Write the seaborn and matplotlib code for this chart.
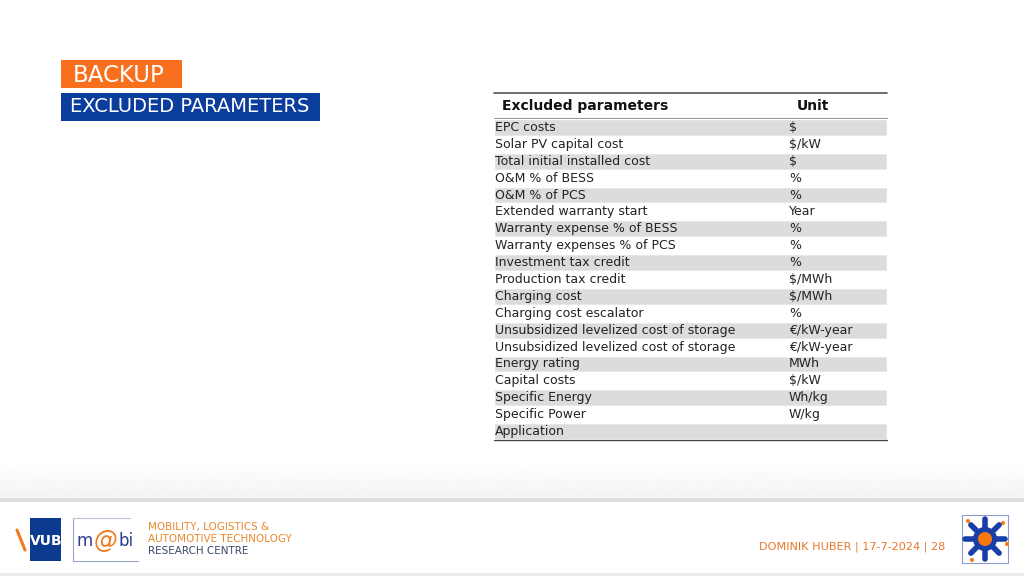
import numpy as np
import pandas as pd
import matplotlib
matplotlib.use('Agg')
import matplotlib.pyplot as plt
import matplotlib.patches as mpatches
import seaborn as sns

# table content
params = ['EPC costs', 'Solar PV capital cost', 'Total initial installed cost',
          'O&M % of BESS', 'O&M % of PCS', 'Extended warranty start',
          'Warranty expense % of BESS', 'Warranty expenses % of PCS',
          'Investment tax credit', 'Production tax credit', 'Charging cost',
          'Charging cost escalator', 'Unsubsidized levelized cost of storage',
          'Unsubsidized levelized cost of storage', 'Energy rating',
          'Capital costs', 'Specific Energy', 'Specific Power', 'Application']
units = ['$', '$/kW', '$', '%', '%', 'Year', '%', '%', '%', '$/MWh', '$/MWh',
         '%', '€/kW-year', '€/kW-year', 'MWh', '$/kW', 'Wh/kg', 'W/kg', '']
header = ['Excluded parameters', 'Unit']
section = 'BACKUP'
title = 'EXCLUDED PARAMETERS'
footer = 'DOMINIK HUBER | 17-7-2024 | 28'
centre_lines = ['MOBILITY, LOGISTICS &', 'AUTOMOTIVE TECHNOLOGY', 'RESEARCH CENTRE']

sns.set_theme(style='white')
plt.rcParams['font.family'] = ['DejaVu Sans']

W, H = 1024, 576
fig = plt.figure(figsize=(W / 100, H / 100), dpi=100)

# background axes in pixel coordinates
bg = fig.add_axes([0, 0, 1, 1])
bg.set_xlim(0, W)
bg.set_ylim(H, 0)
bg.axis('off')

# grey gradient above footer
grad = np.linspace(1.0, 0.955, 40).reshape(-1, 1)
bg.imshow(np.repeat(grad, 2, axis=1), cmap='gray', vmin=0, vmax=1,
          extent=(0, W, 499, 460), aspect='auto', zorder=0)
bg.add_patch(mpatches.Rectangle((0, 498), W, 4, color='#dedede', lw=0, zorder=1))
bg.add_patch(mpatches.Rectangle((0, 573), W, 3, color='#ececec', lw=0, zorder=1))

# section boxes
bg.add_patch(mpatches.Rectangle((61, 60), 121, 28, color='#f8701e', lw=0))
bg.text(73, 75, section, color='white', fontsize=16.5, va='center', ha='left')
bg.add_patch(mpatches.Rectangle((61, 93), 259, 28, color='#0b3d9d', lw=0))
bg.text(70, 107, title, color='white', fontsize=14, va='center', ha='left')

# table header
bg.plot([494, 887], [92.5, 92.5], color='#555555', lw=1.2)
bg.text(502, 106, header[0], fontsize=10, fontweight='bold', color='#111111', va='center')
bg.text(797, 106, header[1], fontsize=10, fontweight='bold', color='#111111', va='center')
bg.plot([494, 887], [118, 118], color='#999999', lw=0.8)

# table rows with seaborn bars as stripes (row index keeps duplicate names apart)
tab = pd.DataFrame({'row': [str(i) for i in range(len(params))],
                    'param': params, 'unit': units,
                    'span': [1.0] * len(params),
                    'shade': ['grey' if i % 2 == 0 else 'white' for i in range(len(params))]})
ax = fig.add_axes([494 / W, 1 - 440 / H, 393 / W, 321 / H])
sns.barplot(data=tab, y='row', x='span', hue='shade', orient='h',
            palette={'grey': '#dcdcdc', 'white': '#ffffff'}, width=1.0,
            legend=False, ax=ax, dodge=False)
ax.set_xlim(0, 1)
ax.set_ylim(len(params) - 0.5, -0.5)
ax.axis('off')
for i, (p, u) in enumerate(zip(tab['param'], tab['unit'])):
    ax.text(0.002, i, p, fontsize=9, color='#222222', va='center', ha='left')
    ax.text(0.75, i, u, fontsize=9, color='#222222', va='center', ha='left')
bg.plot([494, 887], [440, 440], color='#444444', lw=1.0, zorder=5)

# footer text
bg.text(945, 547, footer, color='#e8772a', fontsize=8.1, ha='right', va='center')

# VUB logo
bg.add_patch(mpatches.Rectangle((30, 518), 31, 43, color='#0b3a8e', lw=0))
bg.text(46, 541, 'VUB', color='white', fontsize=10, fontweight='bold', ha='center', va='center')
bg.plot([17, 25], [530, 550], color='#f07a1e', lw=2.2)

# mobi logo
bg.plot([73, 73, 138], [518, 561, 561], color='#9aa6c8', lw=0.8)
bg.plot([73, 130], [518, 518], color='#b8c0d8', lw=0.8)
bg.text(85, 541, 'm', color='#2b3f8f', fontsize=12, ha='center', va='center')
bg.text(105, 541, '@', color='#f07a1e', fontsize=17, ha='center', va='center', style='italic')
bg.text(126, 541, 'bi', color='#2b3f8f', fontsize=12, ha='center', va='center')
for k, line in enumerate(centre_lines):
    bg.text(148, 527 + 12 * k, line, fontsize=7.5,
            color='#3a4a6a' if k == 2 else '#e8892e', va='center', ha='left')

# sun logo
bg.add_patch(mpatches.Rectangle((962, 515), 46, 48, fill=False, ec='#8c9ad0', lw=0.8))
ang = np.linspace(0, 2 * np.pi, 9)[:-1]
for a in ang:
    bg.plot([985, 985 + 20 * np.cos(a)], [539, 539 + 20 * np.sin(a)],
            color='#1a3ea8', lw=4, solid_capstyle='round')
bg.add_patch(mpatches.Circle((985, 539), 12, color='#1a3ea8', lw=0))
bg.add_patch(mpatches.Circle((985, 539), 7, color='#f7780f', lw=0, zorder=6))
for (cx, cy) in [(968, 521), (1003, 523), (1007, 544), (972, 560)]:
    bg.add_patch(mpatches.Circle((cx, cy), 2, color='#f7780f', lw=0))

fig.savefig('out.png', dpi=100)
